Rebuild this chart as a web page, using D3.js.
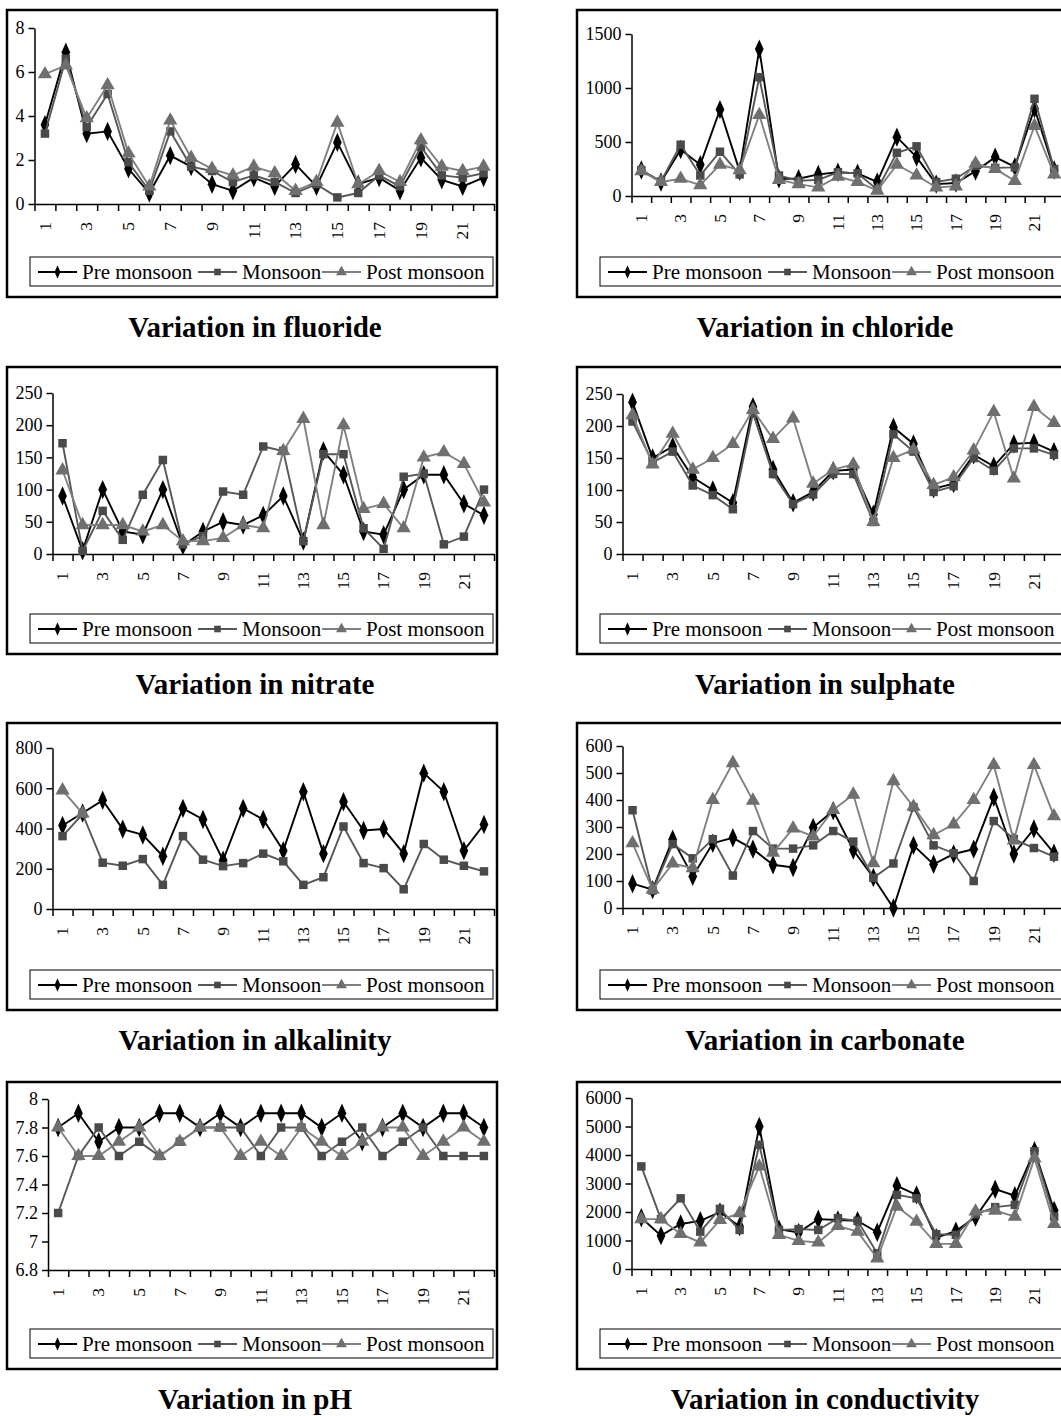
<!DOCTYPE html>
<html lang="en">
<head>
<meta charset="utf-8">
<script src="https://d3js.org/d3.v7.min.js"></script>
<style>
body { margin: 0; background: #fff; }
svg text { font-family: "Liberation Serif", "Times New Roman", serif; fill: #000; }
</style>
</head>
<body>
<div id="chart"></div>
<script>
// sample points 1..22
var categories = [1, 2, 3, 4, 5, 6, 7, 8, 9, 10, 11, 12, 13, 14, 15, 16, 17, 18, 19, 20, 21, 22];
var seriesNames = ["Pre monsoon", "Monsoon", "Post monsoon"];

// fluoride
var fluorideTicks = [0, 2, 4, 6, 8];
var fluoridePre  = [3.6, 6.9, 3.2, 3.3, 1.6, 0.5, 2.2, 1.7, 0.9, 0.6, 1.2, 0.8, 1.8, 0.8, 2.8, 0.9, 1.2, 0.6, 2.1, 1.1, 0.8, 1.2];
var fluorideMon  = [3.2, 6.6, 3.5, 5.0, 1.9, 0.6, 3.3, 1.7, 1.5, 1.0, 1.3, 1.0, 0.5, 0.9, 0.3, 0.5, 1.3, 0.8, 2.6, 1.3, 1.2, 1.4];
var fluoridePost = [5.9, 6.3, 3.9, 5.4, 2.3, 0.8, 3.8, 2.1, 1.6, 1.3, 1.7, 1.4, 0.6, 1.0, 3.7, 0.9, 1.5, 1.0, 2.9, 1.7, 1.5, 1.7];

// chloride
var chlorideTicks = [0, 500, 1000, 1500];
var chloridePre  = [240, 130, 430, 290, 800, 230, 1360, 160, 160, 200, 220, 210, 130, 545, 360, 110, 120, 230, 360, 270, 810, 240];
var chlorideMon  = [240, 135, 475, 190, 410, 200, 1100, 190, 140, 150, 220, 210, 60, 400, 460, 130, 160, 280, 260, 265, 900, 250];
var chloridePost = [230, 130, 160, 100, 290, 240, 750, 150, 110, 80, 180, 130, 50, 290, 190, 80, 90, 300, 250, 140, 650, 200];

// nitrate
var nitrateTicks = [0, 50, 100, 150, 200, 250];
var nitratePre  = [90, 5, 100, 35, 30, 100, 13, 35, 50, 45, 60, 90, 20, 160, 123, 35, 30, 100, 123, 123, 78, 60];
var nitrateMon  = [172, 5, 67, 22, 92, 146, 15, 28, 97, 92, 167, 160, 20, 155, 155, 40, 8, 120, 125, 15, 27, 100];
var nitratePost = [130, 45, 45, 45, 35, 45, 20, 20, 25, 45, 40, 160, 210, 45, 200, 70, 78, 40, 150, 158, 140, 80];

// sulphate
var sulphateTicks = [0, 50, 100, 150, 200, 250];
var sulphatePre  = [237, 150, 168, 120, 100, 80, 230, 132, 80, 97, 130, 132, 62, 198, 172, 102, 110, 155, 137, 172, 174, 160];
var sulphateMon  = [207, 143, 160, 107, 92, 70, 220, 125, 78, 93, 125, 125, 50, 187, 160, 97, 106, 150, 130, 165, 165, 155];
var sulphatePost = [217, 140, 188, 132, 150, 172, 225, 180, 212, 110, 132, 140, 50, 150, 163, 108, 120, 162, 222, 118, 230, 205];

// alkalinity
var alkalinityTicks = [0, 200, 400, 600, 800];
var alkalinityPre  = [415, 477, 540, 397, 368, 262, 500, 445, 242, 500, 445, 290, 583, 275, 533, 390, 397, 275, 675, 583, 290, 420];
var alkalinityMon  = [362, 472, 230, 215, 248, 120, 362, 245, 213, 228, 275, 237, 120, 158, 410, 228, 203, 98, 323, 245, 215, 187];
var alkalinityPost = [590, 475, null, null, null, null, null, null, null, null, null, null, null, null, null, null, null, null, null, null, null, null];

// carbonate
var carbonateTicks = [0, 100, 200, 300, 400, 500, 600];
var carbonatePre  = [90, 68, 255, 117, 240, 260, 218, 160, 150, 298, 360, 215, 113, 0, 232, 162, 200, 218, 410, 200, 293, 203];
var carbonateMon  = [362, 65, 237, 184, 255, 120, 285, 220, 220, 232, 285, 246, 112, 165, 373, 232, 203, 100, 322, 255, 222, 190];
var carbonatePost = [240, 68, 165, 148, 400, 537, 398, 205, 295, 265, 363, 420, 166, 470, 375, 270, 310, 400, 530, 250, 530, 340];

// pH
var phTicks = [6.8, 7, 7.2, 7.4, 7.6, 7.8, 8];
var phPre  = [7.8, 7.9, 7.7, 7.8, 7.8, 7.9, 7.9, 7.8, 7.9, 7.8, 7.9, 7.9, 7.9, 7.8, 7.9, 7.7, 7.8, 7.9, 7.8, 7.9, 7.9, 7.8];
var phMon  = [7.2, 7.6, 7.8, 7.6, 7.7, 7.6, 7.7, 7.8, 7.8, 7.8, 7.6, 7.8, 7.8, 7.6, 7.7, 7.8, 7.6, 7.7, 7.8, 7.6, 7.6, 7.6];
var phPost = [7.8, 7.6, 7.6, 7.7, 7.8, 7.6, 7.7, 7.8, 7.8, 7.6, 7.7, 7.6, 7.8, 7.7, 7.6, 7.7, 7.8, 7.8, 7.6, 7.7, 7.8, 7.7];

// conductivity
var conductivityTicks = [0, 1000, 2000, 3000, 4000, 5000, 6000];
var conductivityPre  = [1800, 1170, 1580, 1690, 2000, 1490, 5000, 1400, 1280, 1750, 1720, 1690, 1290, 2920, 2600, 1100, 1330, 1820, 2800, 2570, 4150, 2050];
var conductivityMon  = [3600, 1750, 2480, 1310, 2110, 1370, 4360, 1370, 1400, 1370, 1780, 1690, 550, 2600, 2480, 1220, 1200, 1920, 2170, 2250, 4130, 1840];
var conductivityPost = [1750, 1750, 1230, 930, 1720, 1960, 3600, 1200, 985, 930, 1510, 1310, 375, 2190, 1660, 880, 880, 2020, 2050, 1840, 3890, 1580];

var panels = [
  {title: "Variation in fluoride", col: 0, row: 0, ticks: fluorideTicks, data: [fluoridePre, fluorideMon, fluoridePost], top: 18, bottom: 194},
  {title: "Variation in chloride", col: 1, row: 0, ticks: chlorideTicks, data: [chloridePre, chlorideMon, chloridePost], top: 24, bottom: 186},
  {title: "Variation in nitrate", col: 0, row: 1, ticks: nitrateTicks, data: [nitratePre, nitrateMon, nitratePost], top: 26, bottom: 187},
  {title: "Variation in sulphate", col: 1, row: 1, ticks: sulphateTicks, data: [sulphatePre, sulphateMon, sulphatePost], top: 27, bottom: 187},
  {title: "Variation in alkalinity", col: 0, row: 2, ticks: alkalinityTicks, data: [alkalinityPre, alkalinityMon, alkalinityPost], top: 25, bottom: 186},
  {title: "Variation in carbonate", col: 1, row: 2, ticks: carbonateTicks, data: [carbonatePre, carbonateMon, carbonatePost], top: 23, bottom: 185},
  {title: "Variation in pH", col: 0, row: 3, ticks: phTicks, data: [phPre, phMon, phPost], top: 17, bottom: 188},
  {title: "Variation in conductivity", col: 1, row: 3, ticks: conductivityTicks, data: [conductivityPre, conductivityMon, conductivityPost], top: 16, bottom: 187}
];

var width = 1061, height = 1416;
var colX = [7, 577];
var rowY = [10, 367, 723, 1082];
var boxW = 490, boxH = 287;

var lineColors = ["#000000", "#575757", "#808080"];
var markerFill = ["#000000", "#4a4a4a", "#6f6f6f"];
var symbols = [d3.symbolDiamond, d3.symbolSquare, d3.symbolTriangle];
var markerSize = [90, 72, 88];
var legendSize = [42, 44, 52];

var svg = d3.select("#chart").append("svg")
    .attr("width", width)
    .attr("height", height);

panels.forEach(function(p) {
  var g = svg.append("g")
      .attr("transform", "translate(" + colX[p.col] + "," + rowY[p.row] + ")");

  g.append("rect")
      .attr("x", 0).attr("y", 0)
      .attr("width", boxW).attr("height", boxH)
      .attr("fill", "#fff")
      .attr("stroke", "#000")
      .attr("stroke-width", 2.5);

  var fmt = function(d) { return String(d); };

  // measure widest y label to place the axis like Excel does
  var probe = g.append("text").style("font-size", "18px");
  var maxW = 0;
  p.ticks.forEach(function(t) {
    probe.text(fmt(t));
    maxW = Math.max(maxW, probe.node().getComputedTextLength());
  });
  probe.remove();

  var x0 = 8.5 + maxW + 10;
  var x1 = 487;

  var y = d3.scaleLinear()
      .domain([p.ticks[0], p.ticks[p.ticks.length - 1]])
      .range([p.bottom, p.top]);

  var xBand = d3.scaleBand().domain(categories).range([x0, x1]).padding(0);
  var xEdge = d3.scaleLinear().domain([0, categories.length]).range([x0, x1]);
  var cx = function(i) { return xBand(categories[i]) + xBand.bandwidth() / 2; };

  // y axis
  var ya = g.append("g")
      .attr("transform", "translate(" + x0 + ",0)")
      .call(d3.axisLeft(y).tickValues(p.ticks).tickFormat(fmt).tickSize(6).tickSizeOuter(0).tickPadding(4));
  ya.selectAll("text").style("font-size", "18px");
  ya.select(".domain").attr("stroke-width", 1.5);
  ya.selectAll(".tick line").attr("stroke-width", 1.5);

  // x axis tick marks between categories
  var xa = g.append("g")
      .attr("transform", "translate(0," + p.bottom + ")")
      .call(d3.axisBottom(xEdge).tickValues(d3.range(categories.length + 1)).tickFormat("").tickSize(7).tickSizeOuter(0));
  xa.select(".domain").attr("stroke-width", 1.5);
  xa.selectAll(".tick line").attr("stroke-width", 1.5);

  // x labels, odd ones only, rotated
  var xl = g.append("g")
      .attr("transform", "translate(0," + p.bottom + ")")
      .call(d3.axisBottom(xBand).tickSize(0).tickFormat(function(d) { return d % 2 === 1 ? d : ""; }));
  xl.select(".domain").remove();
  xl.selectAll("text")
      .style("font-size", "17.5px")
      .attr("transform", "rotate(-90)")
      .attr("text-anchor", "end")
      .attr("x", -18)
      .attr("y", 0)
      .attr("dy", "0.33em");

  // series
  p.data.forEach(function(vals, s) {
    var line = d3.line()
        .defined(function(d) { return d !== null; })
        .x(function(d, i) { return cx(i); })
        .y(function(d) { return y(d); });

    g.append("path")
        .datum(vals)
        .attr("fill", "none")
        .attr("stroke", lineColors[s])
        .attr("stroke-width", 1.9)
        .attr("d", line);

    g.selectAll(".m" + s)
        .data(vals.map(function(v, i) { return {v: v, i: i}; }).filter(function(d) { return d.v !== null; }))
        .enter().append("path")
        .attr("class", "m" + s)
        .attr("transform", function(d) {
          var sc = s === 0 ? "scale(0.85,1.1)" : "";
          return "translate(" + cx(d.i) + "," + y(d.v) + ")" + sc;
        })
        .attr("d", d3.symbol().type(symbols[s]).size(markerSize[s]))
        .attr("fill", markerFill[s]);
  });

  // legend
  var lg = g.append("g").attr("transform", "translate(23,247)");
  lg.append("rect")
      .attr("width", 463).attr("height", 29)
      .attr("fill", "#fff").attr("stroke", "#000").attr("stroke-width", 1);
  var itemX = [8, 168, 292];
  seriesNames.forEach(function(name, s) {
    var ix = itemX[s];
    lg.append("line")
        .attr("x1", ix).attr("x2", ix + 39)
        .attr("y1", 15).attr("y2", 15)
        .attr("stroke", lineColors[s]).attr("stroke-width", 1.8);
    lg.append("path")
        .attr("transform", "translate(" + (ix + 19.5) + ",15)" + (s === 0 ? "scale(0.85,1.1)" : ""))
        .attr("d", d3.symbol().type(symbols[s]).size(legendSize[s]))
        .attr("fill", markerFill[s]);
    lg.append("text")
        .attr("x", ix + 44)
        .attr("y", 15)
        .attr("dy", "0.35em")
        .style("font-size", "21px")
        .text(name);
  });

  // title
  g.append("text")
      .attr("x", 248)
      .attr("y", boxH + 40)
      .attr("text-anchor", "middle")
      .style("font-size", "29px")
      .style("font-weight", "bold")
      .text(p.title);
});
</script>
</body>
</html>
